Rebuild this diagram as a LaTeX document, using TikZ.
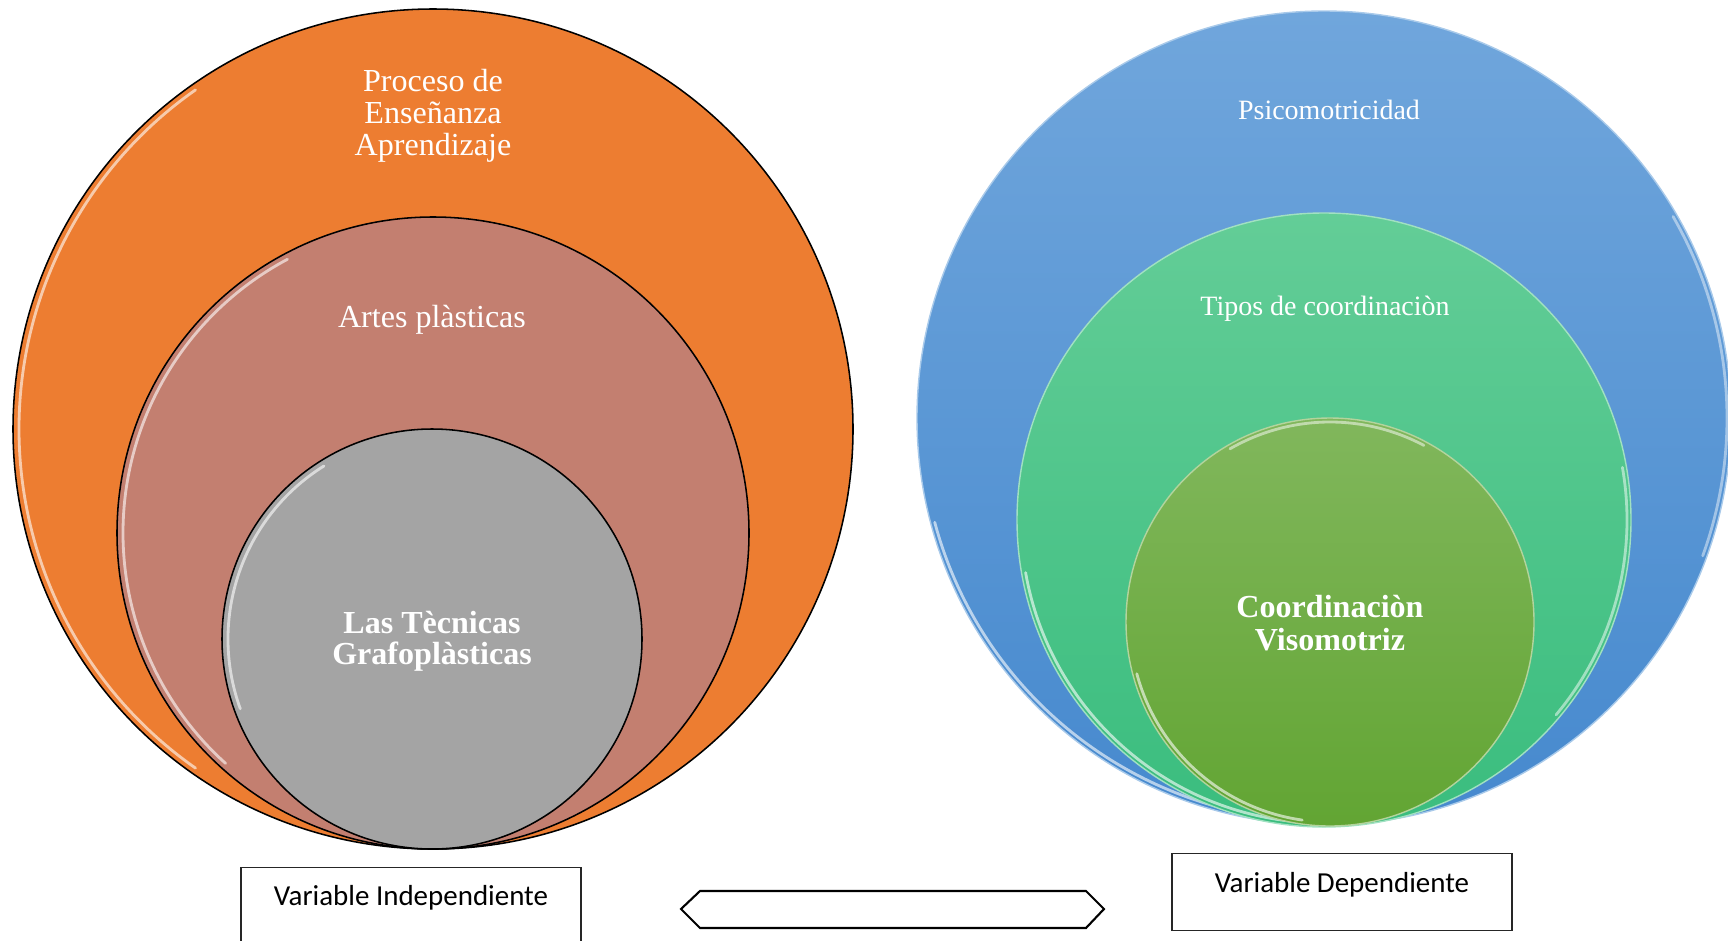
\documentclass[tikz,border=0pt]{standalone}
\usepackage{fontspec}
\setmainfont{Liberation Serif}
\newfontfamily\calibri{Carlito}
\usepackage{tikz}

\definecolor{naranja}{HTML}{ED7D31}
\definecolor{rosa}{HTML}{C37F70}
\definecolor{gris}{HTML}{A4A4A4}
\definecolor{azularriba}{HTML}{70A6DC}
\definecolor{azulabajo}{HTML}{4689CE}
\definecolor{verdearriba}{HTML}{63CD97}
\definecolor{verdeabajo}{HTML}{3ABD7E}
\definecolor{pastoarriba}{HTML}{81B75C}
\definecolor{pastoabajo}{HTML}{62A533}

\tikzset{
	capa/.style={circle, inner sep=0pt, minimum size=#1*0.025cm},
	borde/.style={draw=black, line width=1.1pt},
	bordeclaro/.style={draw=#1, line width=1pt},
	brillo/.style={white, line width=2pt, opacity=0.6, line cap=round},
	rotulo/.style={text=white, align=center, font=\fontsize{22.8}{22.8}\selectfont},
	rotulochico/.style={text=white, align=center, font=\fontsize{19.9}{20}\selectfont},
	caja/.style={draw=black!85, line width=1pt, inner xsep=0pt, inner ysep=0pt, minimum width=8.5cm, anchor=north, font=\calibri\fontsize{20.6}{24}\selectfont}
}

\begin{document}
\begin{tikzpicture}[x=0.025cm, y=0.025cm]
		\useasboundingbox (0,0) rectangle (1728,-940);

		% Draw left circles
		\node[capa=840, borde, fill=naranja] (proceso) at (433,-429) {};
		\draw[brillo] ([shift={(125:414)}]proceso.center) arc[start angle=125, end angle=235, radius=414];
		\node[capa=632, borde, fill=rosa] (artes) at (433,-533) {};
		\draw[brillo] ([shift={(118:310)}]artes.center) arc[start angle=118, end angle=228, radius=310];
		\node[capa=420, borde, fill=gris] (tecnicas) at (432,-639) {};
		\draw[brillo] ([shift={(122:204)}]tecnicas.center) arc[start angle=122, end angle=200, radius=204];

		% Draw right circles
		\node[capa=814, bordeclaro=azularriba!60!white, top color=azularriba, bottom color=azulabajo] (psico) at (1324,-418) {};
		\draw[brillo] ([shift={(195:403)}]psico.center) arc[start angle=195, end angle=272, radius=403];
		\draw[brillo, opacity=0.45] ([shift={(-20:403)}]psico.center) arc[start angle=-20, end angle=30, radius=403];
		\node[capa=614, bordeclaro=verdearriba!60!white, top color=verdearriba, bottom color=verdeabajo] (tipos) at (1324,-520) {};
		\draw[brillo] ([shift={(190:303)}]tipos.center) arc[start angle=190, end angle=272, radius=303];
		\draw[brillo, opacity=0.5] ([shift={(-40:303)}]tipos.center) arc[start angle=-40, end angle=10, radius=303];
		\node[capa=408, bordeclaro=pastoarriba!60!white, top color=pastoarriba, bottom color=pastoabajo] (viso) at (1330,-622) {};
		\draw[brillo, opacity=0.5] ([shift={(62:200)}]viso.center) arc[start angle=62, end angle=120, radius=200];
		\draw[brillo] ([shift={(195:200)}]viso.center) arc[start angle=195, end angle=262, radius=200];

		% Texts
		\node[rotulo] (tproceso) at (433,-116) {Proceso de\\Enseñanza\\Aprendizaje};
		\node[rotulo] (tartes) at (432,-320) {Artes plàsticas};
		\node[rotulo, font=\bfseries\fontsize{22.8}{22}\selectfont] (ttecnicas) at (432,-641) {Las Tècnicas\\Grafoplàsticas};
		\node[rotulochico] (tpsico) at (1329,-110) {Psicomotricidad};
		\node[rotulochico] (ttipos) at (1325,-309) {Tipos de coordinaciòn};
		\node[rotulo, font=\bfseries\fontsize{22.8}{23.8}\selectfont] (tviso) at (1330,-623) {Coordinaciòn\\Visomotriz};

		% Boxes
		\node[caja, text height=0.95cm, text depth=1.6cm] (indep) at (411,-867) {Variable Independiente};
		\node[caja, text height=0.975cm, text depth=0.95cm] (dep) at (1342,-853) {Variable Dependiente};

		% Double arrow
		\draw[line width=1.5pt, line join=miter] (681,-909) -- (700,-891) -- (1086,-891) -- (1104,-909) -- (1086,-928) -- (700,-928) -- cycle;
	\end{tikzpicture}
\end{document}
